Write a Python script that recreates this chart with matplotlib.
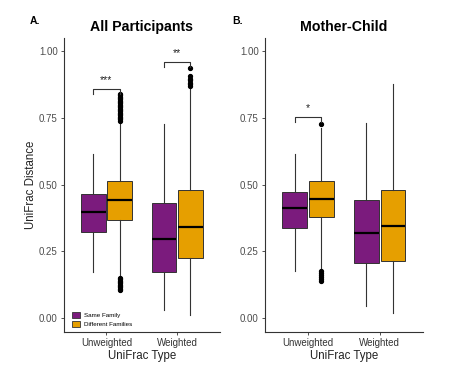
import matplotlib.pyplot as plt
from matplotlib.patches import Patch

plt.rcParams['font.family'] = ['Liberation Sans', 'DejaVu Sans']

PURPLE = "#7B1B7D"
ORANGE = "#E69F00"

types = ["Unweighted", "Weighted"]
groups = ["Same Family", "Different Families"]

# box stats per panel: [group][type] -> (whislo, q1, med, q3, whishi)
all_same = [(0.172, 0.321, 0.396, 0.463, 0.616), (0.032, 0.173, 0.295, 0.432, 0.727)]
all_diff = [(0.158, 0.369, 0.443, 0.515, 0.733), (0.011, 0.225, 0.341, 0.478, 0.860)]
all_same_out = [[], []]
all_diff_out = [
    [0.74, 0.745, 0.75, 0.755, 0.76, 0.765, 0.77, 0.775, 0.78, 0.785, 0.79, 0.795,
     0.80, 0.805, 0.81, 0.815, 0.82, 0.825, 0.83, 0.835, 0.84,
     0.105, 0.11, 0.115, 0.12, 0.125, 0.13, 0.135, 0.14, 0.145, 0.15],
    [0.868, 0.875, 0.882, 0.89, 0.897, 0.905, 0.935],
]

mc_same = [(0.175, 0.337, 0.414, 0.471, 0.614), (0.046, 0.206, 0.318, 0.443, 0.729)]
mc_diff = [(0.182, 0.378, 0.445, 0.515, 0.712), (0.020, 0.215, 0.344, 0.480, 0.876)]
mc_same_out = [[], []]
mc_diff_out = [[0.726, 0.14, 0.148, 0.155, 0.162, 0.17, 0.177], []]

# significance brackets: (type index, y, label)
all_sig = [(0, 0.857, "***"), (1, 0.959, "**")]
mc_sig = [(0, 0.752, "*")]

fig = plt.figure(figsize=(4.6, 3.73), dpi=100)
axA = fig.add_axes([0.139, 0.110, 0.339, 0.788])
axB = fig.add_axes([0.576, 0.110, 0.343, 0.788])

off = 0.185
w = 0.345


def stats_of(vals, outs):
    res = []
    for (lo, q1, med, q3, hi), o in zip(vals, outs):
        res.append(dict(whislo=lo, q1=q1, med=med, q3=q3, whishi=hi, fliers=o))
    return res


def panel(ax, same, diff, same_out, diff_out, sig, title, letter, letter_x, ylabel):
    xs = [1, 2]
    for st, outs, shift, col in [(same, same_out, -off, PURPLE), (diff, diff_out, off, ORANGE)]:
        ax.bxp(stats_of(st, outs), positions=[x + shift for x in xs], widths=w,
               showcaps=False, patch_artist=True,
               boxprops=dict(facecolor=col, edgecolor="#333333", linewidth=0.7),
               medianprops=dict(color="black", linewidth=1.6),
               whiskerprops=dict(color="#333333", linewidth=0.8),
               flierprops=dict(marker="o", markersize=2.8, markerfacecolor="black",
                               markeredgecolor="black", linestyle="none"))
    for i, y, lab in sig:
        x0, x1 = xs[i] - off, xs[i] + off
        ax.plot([x0, x0, x1, x1], [y - 0.018, y, y, y - 0.018], color="#333333", lw=0.8)
        ax.text((x0 + x1) / 2, y + 0.015, lab, ha="center", va="bottom", fontsize=7.5,
                color="#222222")
    ax.set_xlim(0.4, 2.6)
    ax.set_ylim(-0.052, 1.049)
    ax.set_xticks(xs)
    ax.set_xticklabels(types, fontsize=7, color="#333333")
    ax.set_yticks([0, 0.25, 0.5, 0.75, 1.0])
    ax.set_yticklabels(["0.00", "0.25", "0.50", "0.75", "1.00"], fontsize=7, color="#4D4D4D")
    ax.tick_params(length=2.5, width=0.6, color="#333333", pad=2)
    for s in ["top", "right"]:
        ax.spines[s].set_visible(False)
    for s in ["left", "bottom"]:
        ax.spines[s].set_linewidth(0.8)
        ax.spines[s].set_color("#333333")
    ax.set_xlabel("UniFrac Type", fontsize=8.3, color="#222222", labelpad=1)
    if ylabel:
        ax.set_ylabel(ylabel, fontsize=8.3, color="#222222")
        ax.yaxis.set_label_coords(-0.175, 0.5)
    ax.set_title(title, fontsize=10.2, fontweight="bold", pad=5)
    ax.text(letter_x, 1.048, letter, transform=ax.transAxes, fontsize=7.5, fontweight="bold",
            ha="left", va="baseline")


panel(axA, all_same, all_diff, all_same_out, all_diff_out, all_sig,
      "All Participants", "A.", -0.218, "UniFrac Distance")
panel(axB, mc_same, mc_diff, mc_same_out, mc_diff_out, mc_sig,
      "Mother-Child", "B.", -0.209, None)

handles = [Patch(facecolor=PURPLE, edgecolor="#333333", linewidth=0.6, label=groups[0]),
           Patch(facecolor=ORANGE, edgecolor="#333333", linewidth=0.6, label=groups[1])]
axA.legend(handles=handles, loc="lower left", bbox_to_anchor=(0.02, 0.0), frameon=False,
           fontsize=4.5, handlelength=1.2, handleheight=1.2, handletextpad=0.7,
           labelspacing=0.35, borderaxespad=0.4)

fig.savefig("out.png", dpi=100)
